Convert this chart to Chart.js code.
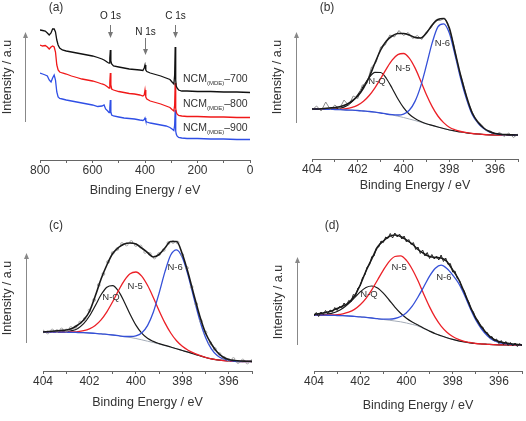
<!DOCTYPE html>
<html>

<head>
    <title>XPS survey and N 1s spectra</title>
    <style>
        body {
            margin: 0;
            background: #fff;
        }

        .panel {
            position: absolute;
            width: 263px;
            height: 210px;
        }
    </style>
</head>

<body>
    <div class="panel" style="left:0;top:0"><canvas id="chartA" width="263" height="210"></canvas></div>
    <div class="panel" style="left:263px;top:0"><canvas id="chartB" width="263" height="210"></canvas></div>
    <div class="panel" style="left:0;top:210px"><canvas id="chartC" width="263" height="210"></canvas></div>
    <div class="panel" style="left:263px;top:210px"><canvas id="chartD" width="263" height="210"></canvas></div>

    <script src="https://cdn.jsdelivr.net/npm/chart.js"></script>

    <script>
        // (a) survey spectra, binding energy in eV, intensity in a.u.
        const surveyE = [800, 790, 780, 772, 765, 758, 752, 746, 741, 736, 731, 725, 715, 700, 680, 660, 640, 620, 600, 580,
            564, 556, 550, 542, 537, 534, 532, 530, 527, 520, 500, 480, 460, 440, 420, 408, 403, 400, 397, 393,
            380, 360, 340, 320, 305, 297, 290, 287, 285, 283, 281, 278, 272, 260, 240, 200, 150, 100, 50, 0]
        const survey700 = [130, 129.5, 129, 127, 125, 127, 131, 131, 128, 120, 115, 112, 110, 109, 108, 107, 106, 105, 104, 102.5,
            101, 100, 99, 97.5, 97, 102, 110, 99, 96, 94, 93, 92, 91, 90.5, 90, 89.5, 92, 95, 90, 88.5,
            87, 85.5, 84, 82, 80.5, 78, 76, 85, 113, 80, 74, 72, 70, 69, 69, 68.5, 68.5, 68, 68, 67.5]
        const survey800 = [115, 114, 114.5, 113, 111, 113, 114, 113, 108, 95, 90, 88, 87, 86, 84, 82.5, 81, 80, 79, 77.5,
            76, 75.5, 74.5, 73, 72, 78, 87, 75, 71, 70, 68.5, 67.5, 66.5, 66, 65, 64, 65, 70, 63, 61,
            59, 57.5, 56, 54, 52.5, 50.5, 49, 55, 77, 52, 48, 46, 44.5, 44, 43.5, 43.5, 43, 43, 42.5, 42.5]
        const survey900 = [87, 86, 85, 84, 80, 78, 82, 85, 80, 68, 63, 61.5, 61, 60, 59, 58, 57, 56, 55, 53.5,
            54, 55, 51, 49, 47.5, 52, 60, 48, 45, 44, 43, 42, 41.5, 41, 40, 39.5, 40.5, 42, 39, 38,
            37, 36, 35, 34, 32.5, 31, 29.5, 35, 50, 29, 26, 24, 22.5, 22, 21.5, 21.5, 21, 21, 20.5, 20.5]

        // N 1s fits, energies of the fitted curves and of the measured points
        const fitE = [404, 403.75, 403.5, 403.25, 403, 402.75, 402.5, 402.25, 402, 401.75, 401.5, 401.25, 401, 400.75, 400.5, 400.25,
            400, 399.75, 399.5, 399.25, 399, 398.75, 398.5, 398.25, 398, 397.75, 397.5, 397.25, 397, 396.75, 396.5, 396.25,
            396, 395.75, 395.5, 395.25, 395]
        const rawE = [404, 403.8, 403.6, 403.4, 403.2, 403, 402.8, 402.6, 402.4, 402.2, 402, 401.8, 401.6, 401.4, 401.2, 401,
            400.8, 400.6, 400.4, 400.2, 400, 399.8, 399.6, 399.4, 399.2, 399, 398.8, 398.6, 398.4, 398.2, 398, 397.8,
            397.6, 397.4, 397.2, 397, 396.8, 396.6, 396.4, 396.2, 396, 395.8, 395.6, 395.4, 395.2, 395]
        const rawEFine = [404, 403.9, 403.8, 403.7, 403.6, 403.5, 403.4, 403.3, 403.2, 403.1, 403, 402.9, 402.8, 402.7, 402.6, 402.5,
            402.4, 402.3, 402.2, 402.1, 402, 401.9, 401.8, 401.7, 401.6, 401.5, 401.4, 401.3, 401.2, 401.1, 401, 400.9,
            400.8, 400.7, 400.6, 400.5, 400.4, 400.3, 400.2, 400.1, 400, 399.9, 399.8, 399.7, 399.6, 399.5, 399.4, 399.3,
            399.2, 399.1, 399, 398.9, 398.8, 398.7, 398.6, 398.5, 398.4, 398.3, 398.2, 398.1, 398, 397.9, 397.8, 397.7,
            397.6, 397.5, 397.4, 397.3, 397.2, 397.1, 397, 396.9, 396.8, 396.7, 396.6, 396.5, 396.4, 396.3, 396.2, 396.1,
            396, 395.9, 395.8, 395.7, 395.6, 395.5, 395.4, 395.3, 395.2, 395.1, 395]

        // (b) NCM(MDE)-700
        const bBase = [50, 50, 49.8, 49.7, 49.5, 49.3, 49, 48.8, 48.5, 48, 47.5, 46.8, 46, 45, 44, 42.8, 41.5, 40, 38.5, 36.8,
            35, 33.5, 32, 30.5, 29, 28, 27, 26.2, 25.5, 25, 24.5, 24.2, 24, 24, 24, 24, 24]
        const bQ = [50, 50, 49.8, 49.7, 50.1, 50.9, 53, 57.4, 64.2, 72.9, 81.4, 86.7, 86.5, 80.5, 70.8, 60.2, 51.3, 44.7, 40.5, 37.5,
            35.2, 33.6, 32, 30.5, 29, 28, 27, 26.2, 25.5, 25, 24.5, 24.2, 24, 24, 24, 24, 24]
        const b5 = [50, 50, 49.8, 49.7, 49.7, 49.9, 50.3, 51.6, 53.9, 57.7, 63.5, 71.2, 80.5, 90.2, 98.9, 104.4, 105.5, 100.9, 91.1, 78.1,
            64.3, 52.4, 43, 36.4, 31.8, 29.2, 27.5, 26.4, 25.5, 25, 24.5, 24.2, 24, 24, 24, 24, 24]
        const b6 = [50, 50, 49.8, 49.7, 49.5, 49.3, 49, 48.8, 48.5, 48, 47.5, 46.8, 46, 45, 44.3, 44, 44.9, 48.7, 57.6, 72.9,
            93.8, 116.1, 132.2, 135.2, 126, 104, 80, 60, 44.5, 36, 30.5, 27, 25.3, 24.5, 24.2, 24, 24]
        const bEnv = [50, 50, 50.5, 51, 51.5, 52.5, 54.5, 58, 63, 71, 82, 96, 109, 118, 123, 125.5, 125.5, 124, 121.5, 121,
            126, 134, 139.5, 140.5, 131, 107, 83, 62.5, 46, 37, 31, 27.5, 25.5, 24.8, 24.4, 24.1, 24]
        const bRaw = [49, 53, 48, 57, 49.5, 54, 50, 59, 53.5, 63, 60.5, 74, 75.5, 92, 96.5, 112, 114, 124, 122, 128.5,
            123.5, 126.5, 120.5, 123.5, 119.5, 127.5, 131, 139, 138.5, 141, 130, 113.5, 91, 76, 58, 47, 37.5, 34.5, 28.5, 28,
            24.5, 26.5, 22.5, 26, 21.5, 25]

        // (c) NCM(MDE)-800
        const cBase = [39, 39, 39, 38.9, 38.8, 38.7, 38.5, 38.3, 38, 37.6, 37.2, 36.6, 36, 35.3, 34.5, 33.6, 32.5, 31.2, 29.8, 28.5,
            27, 25.5, 24, 22.2, 20.5, 18.8, 17, 15.2, 13.5, 12.2, 11.2, 10.5, 10, 9.7, 9.5, 9.5, 9.5]
        const cQ = [39, 39, 39, 38.9, 39.3, 40.3, 42.6, 47.3, 55, 65.3, 76.2, 83.8, 85.4, 79.8, 69.1, 56.8, 45.9, 37.9, 32.7, 29.6,
            27.4, 25.6, 24, 22.2, 20.5, 18.8, 17, 15.2, 13.5, 12.2, 11.2, 10.5, 10, 9.7, 9.5, 9.5, 9.5]
        const c5 = [39, 39, 39, 38.9, 38.9, 39.1, 39.4, 40.3, 42.2, 45.6, 51.2, 59.2, 69.3, 80.4, 90.4, 97.3, 99, 94.9, 85.7, 73.6,
            60.3, 48.1, 38, 30.2, 24.7, 20.8, 17.9, 15.6, 13.6, 12.2, 11.2, 10.5, 10, 9.7, 9.5, 9.5, 9.5]
        const c6 = [39, 39, 39, 38.9, 38.8, 38.7, 38.5, 38.3, 38, 37.6, 37.2, 36.6, 36, 35.3, 34.5, 34.5, 35.1, 38.1, 45.4, 58.8,
            77.9, 99.1, 116, 121.2, 113.4, 95.5, 72.7, 50.8, 33.6, 22.2, 15.6, 12.2, 10.6, 9.7, 9.5, 9.5, 9.5]
        const cEnv = [39, 39.5, 40, 40.5, 41, 42.5, 46, 51, 59.5, 75, 92, 106, 117.5, 123.5, 127, 128, 127, 123, 118.5, 114,
            116.5, 123, 129.5, 129.5, 117, 98, 76, 55, 38, 27, 19, 14, 11.5, 10.5, 10, 9.8, 9.6]
        const cRaw = [39.5, 38.5, 40.5, 40, 41.5, 40.5, 43, 44, 48.5, 52, 60.5, 71, 86, 97, 109, 118, 122, 127, 126.5, 129,
            126, 124.5, 119, 117, 113.5, 117, 121, 128, 129, 128.5, 116, 103, 84, 67, 50, 38.5, 28, 22, 17, 13,
            11, 12, 9, 10.5, 8.5, 10]

        // (d) NCM(MDE)-900
        const dBase = [56, 55.9, 55.8, 55.7, 55.5, 55.3, 55, 54.6, 54.2, 53.6, 53, 52.3, 51.5, 50.8, 50, 49.2, 48, 46.6, 45, 42.3,
            39.8, 37.3, 35.2, 33.3, 31.6, 30.2, 29.1, 28.2, 27.5, 27, 26.7, 26.4, 26.2, 26.1, 26, 26, 26]
        const dQ = [56.1, 56.2, 56.6, 57.6, 59.5, 62.8, 67.5, 73.2, 79.1, 83.5, 85, 83, 77.8, 71, 63.9, 57.7, 52.7, 48.9, 46, 42.7,
            39.9, 37.3, 35.2, 33.3, 31.6, 30.2, 29.1, 28.2, 27.5, 27, 26.7, 26.4, 26.2, 26.1, 26, 26, 26]
        const d5 = [56, 55.9, 56, 56.1, 56.4, 57.2, 58.8, 61.6, 66.2, 72.7, 81.2, 91, 100.9, 109.4, 114.5, 115.2, 110.6, 101.8, 90.2, 76.7,
            64.1, 53.3, 44.9, 38.8, 34.5, 31.6, 29.7, 28.5, 27.5, 27, 26.7, 26.4, 26.2, 26.1, 26, 26, 26]
        const d6 = [56, 55.9, 55.8, 55.7, 55.5, 55.3, 55, 54.6, 54.2, 53.6, 53, 52.3, 51.9, 51.9, 52.5, 54.5, 58.3, 64.8, 74, 84.3,
            94.9, 102.8, 105.9, 102.5, 96, 88, 76.5, 63, 51, 42, 35.3, 30.7, 28.5, 27.4, 26.7, 26.3, 26]
        const dEnv = [56.5, 57.5, 58.5, 60, 62.5, 65, 68.5, 75, 86, 100, 112, 124, 130, 134.5, 136, 134.5, 131, 127, 121.5, 117.5,
            114.5, 113.5, 113, 109.5, 101, 92, 79, 65, 53, 44, 37, 32, 29.5, 28.3, 27.3, 26.6, 26]
        const dRaw = [55, 58.5, 54.5, 59, 56.5, 60.5, 57, 61, 59, 63.5, 60.5, 64.5, 63, 68, 65, 70.5, 69, 76.5, 75, 83,
            85, 93.5, 96, 104, 106, 114.5, 115, 123, 124, 130, 128.5, 134, 132.5, 137.5, 133, 138, 134, 137, 132, 135,
            129, 131.5, 126.5, 128.5, 121.5, 124, 117.5, 121, 115, 118.5, 112.5, 116.5, 112, 115, 111, 116, 109.5, 113, 106.5, 107.5,
            99, 100, 92.5, 90.5, 83, 80, 72.5, 69, 61.5, 59, 52, 50.5, 44.5, 44, 38.5, 38.5, 33.5, 34.5, 30, 32,
            27.5, 30.5, 26.5, 29.5, 25.5, 28.5, 25, 28, 24.5, 27.5, 25]

        Chart.defaults.font.family = '"Liberation Sans", Arial, sans-serif';
        Chart.defaults.color = '#333';

        const pts = (xs, ys) => xs.map((x, i) => ({ x: x, y: ys[i] }));

        function arrowHead(ctx, x, y, dir) {
            // dir -1 : tip points up, 1 : tip points down
            ctx.beginPath();
            ctx.moveTo(x, y);
            ctx.lineTo(x - 2.5, y - dir * 6);
            ctx.lineTo(x + 2.5, y - dir * 6);
            ctx.closePath();
            ctx.fill();
        }

        // draws the y arrow, y title, panel letter and the text labels
        const decor = {
            id: 'decor',
            afterDraw(chart, args, o) {
                const ctx = chart.ctx;
                const sx = chart.scales.x, sy = chart.scales.y;
                ctx.save();

                ctx.strokeStyle = '#888';
                ctx.fillStyle = '#888';
                ctx.lineWidth = 1;
                ctx.beginPath();
                ctx.moveTo(o.arrow.x + 0.5, o.arrow.bottom);
                ctx.lineTo(o.arrow.x + 0.5, o.arrow.top + 5);
                ctx.stroke();
                arrowHead(ctx, o.arrow.x + 0.5, o.arrow.top, -1);

                ctx.fillStyle = '#333';
                ctx.textAlign = 'center';
                ctx.textBaseline = 'middle';
                ctx.font = '12.5px "Liberation Sans", Arial, sans-serif';
                ctx.save();
                ctx.translate(o.yTitle.x, o.yTitle.y);
                ctx.rotate(-Math.PI / 2);
                ctx.fillText(o.yTitle.text, 0, 0);
                ctx.restore();

                ctx.font = '12px "Liberation Sans", Arial, sans-serif';
                ctx.fillText(o.letter.text, o.letter.x, o.letter.y);

                // peak names placed at data coordinates
                ctx.font = '9.5px "Liberation Sans", Arial, sans-serif';
                (o.peaks || []).forEach(p => {
                    ctx.fillText(p.text, sx.getPixelForValue(p.e), sy.getPixelForValue(p.v));
                });

                // core level marks of the survey
                ctx.font = '10px "Liberation Sans", Arial, sans-serif';
                (o.levels || []).forEach(l => {
                    const px = Math.round(sx.getPixelForValue(l.e)) + 0.5;
                    ctx.fillStyle = '#222';
                    ctx.fillText(l.text, px, l.textY);
                    ctx.strokeStyle = '#777';
                    ctx.fillStyle = '#777';
                    ctx.beginPath();
                    ctx.moveTo(px, l.top);
                    ctx.lineTo(px, l.tip - 5);
                    ctx.stroke();
                    arrowHead(ctx, px, l.tip, 1);
                });

                // sample names with subscript
                ctx.fillStyle = '#333';
                ctx.textAlign = 'left';
                ctx.textBaseline = 'alphabetic';
                (o.samples || []).forEach(s => {
                    let x = o.sampleX;
                    ctx.font = '10.5px "Liberation Sans", Arial, sans-serif';
                    ctx.fillText('NCM', x, s.y);
                    x += ctx.measureText('NCM').width;
                    ctx.font = '6px "Liberation Sans", Arial, sans-serif';
                    ctx.fillText('(MDE)', x, s.y + 3);
                    x += ctx.measureText('(MDE)').width;
                    ctx.font = '10.5px "Liberation Sans", Arial, sans-serif';
                    ctx.fillText(s.suffix, x, s.y);
                });

                ctx.restore();
            }
        };

        function makeChart(id, c) {
            return new Chart(document.getElementById(id), {
                type: 'line',
                data: { datasets: c.datasets },
                options: {
                    responsive: false,
                    animation: false,
                    layout: { padding: c.padding },
                    scales: {
                        x: {
                            type: 'linear',
                            reverse: true,
                            min: c.xMin,
                            max: c.xMax,
                            ticks: {
                                stepSize: c.step,
                                autoSkip: false,
                                maxRotation: 0,
                                padding: 0,
                                color: '#333',
                                font: { size: 12 },
                                callback: (v) => (v % c.labelEvery === 0 ? String(v) : '')
                            },
                            grid: { drawOnChartArea: false, tickLength: 3, color: '#666' },
                            border: { color: '#666' },
                            title: {
                                display: true,
                                text: 'Binding Energy / eV',
                                color: '#333',
                                font: { size: 12.5 },
                                padding: 0
                            },
                            afterFit: (s) => { s.height = c.xAxisHeight; }
                        },
                        y: { display: false, min: 0, max: c.yMax }
                    },
                    plugins: {
                        legend: { display: false },
                        tooltip: { enabled: false },
                        decor: c.decor
                    }
                },
                plugins: [decor]
            });
        }

        const lineStyle = (data, color, width) => ({
            data: data, borderColor: color, borderWidth: width, pointRadius: 0,
            cubicInterpolationMode: 'monotone', fill: false
        });

        function fitSets(env, raw, rawXs, q, n5, n6, base, rawStyle) {
            return [
                lineStyle(pts(fitE, env), '#1a1a1a', 1.6),
                Object.assign({ data: pts(rawXs, raw), pointRadius: 0, fill: false, tension: 0 }, rawStyle),
                lineStyle(pts(fitE, n6), '#3550d8', 1.3),
                lineStyle(pts(fitE, n5), '#ec2027', 1.3),
                lineStyle(pts(fitE, q), '#1a1a1a', 1.2),
                lineStyle(pts(fitE, base), '#a4acb8', 1)
            ];
        }

        makeChart('chartA', {
            datasets: [
                { data: pts(surveyE, survey700), borderColor: '#111', borderWidth: 1.3, pointRadius: 0, tension: 0 },
                { data: pts(surveyE, survey800), borderColor: '#f01818', borderWidth: 1.3, pointRadius: 0, tension: 0 },
                { data: pts(surveyE, survey900), borderColor: '#2f4fe6', borderWidth: 1.3, pointRadius: 0, tension: 0 }
            ],
            padding: { left: 40, right: 13, top: 20, bottom: 11.5 },
            xMin: 0, xMax: 800, step: 100, labelEvery: 200, yMax: 140, xAxisHeight: 38.5,
            decor: {
                arrow: { x: 25, top: 32, bottom: 122 },
                yTitle: { text: 'Intensity / a.u', x: 8, y: 77 },
                letter: { text: '(a)', x: 56, y: 8 },
                levels: [
                    { text: 'O 1s', e: 532, textY: 16, top: 25, tip: 38 },
                    { text: 'N 1s', e: 400, textY: 32, top: 38, tip: 55 },
                    { text: 'C 1s', e: 285, textY: 16, top: 25, tip: 38 }
                ],
                sampleX: 183,
                samples: [{ y: 82, suffix: '\u2013700' }, { y: 107, suffix: '\u2013800' }, { y: 131, suffix: '\u2013900' }]
            }
        });

        makeChart('chartB', {
            datasets: fitSets(bEnv, bRaw, rawE, bQ, b5, b6, bBase, { borderColor: '#8c8c8c', borderWidth: 1 }),
            padding: { left: 49, right: 8, top: 15, bottom: 16.5 },
            xMin: 395, xMax: 404, step: 1, labelEvery: 2, yMax: 144, xAxisHeight: 34.5,
            decor: {
                arrow: { x: 33, top: 32, bottom: 123 },
                yTitle: { text: 'Intensity / a.u', x: 15, y: 77 },
                letter: { text: '(b)', x: 64, y: 8 },
                peaks: [{ text: 'N-Q', e: 401.16, v: 78 }, { text: 'N-5', e: 400.03, v: 91 }, { text: 'N-6', e: 398.3, v: 115.5 }]
            }
        });

        makeChart('chartC', {
            datasets: fitSets(cEnv, cRaw, rawE, cQ, c5, c6, cBase, {
                borderColor: '#999', borderWidth: 0, showLine: false, pointRadius: 1.4,
                pointBorderWidth: 0.8, pointBorderColor: '#9a9a9a', pointBackgroundColor: 'rgba(255,255,255,0)'
            }),
            padding: { left: 43, right: 11, top: 15, bottom: 9.5 },
            xMin: 395, xMax: 404, step: 1, labelEvery: 2, yMax: 146, xAxisHeight: 39.5,
            decor: {
                arrow: { x: 26, top: 43, bottom: 133 },
                yTitle: { text: 'Intensity / a.u', x: 8, y: 88 },
                letter: { text: '(c)', x: 56, y: 16 },
                peaks: [{ text: 'N-Q', e: 401.07, v: 74 }, { text: 'N-5', e: 400.03, v: 85 }, { text: 'N-6', e: 398.31, v: 104 }]
            }
        });

        makeChart('chartD', {
            datasets: fitSets(dEnv, dRaw, rawEFine, dQ, d5, d6, dBase, { borderColor: '#222', borderWidth: 1 }),
            padding: { left: 51, right: 4, top: 15, bottom: 6.5 },
            xMin: 395, xMax: 404, step: 1, labelEvery: 2, yMax: 146, xAxisHeight: 42.5,
            decor: {
                arrow: { x: 34, top: 47, bottom: 135 },
                yTitle: { text: 'Intensity / a.u', x: 16, y: 92 },
                letter: { text: '(d)', x: 69, y: 16 },
                peaks: [{ text: 'N-Q', e: 401.62, v: 77 }, { text: 'N-5', e: 400.32, v: 104 }, { text: 'N-6', e: 398.38, v: 94 }]
            }
        });
    </script>
</body>

</html>
